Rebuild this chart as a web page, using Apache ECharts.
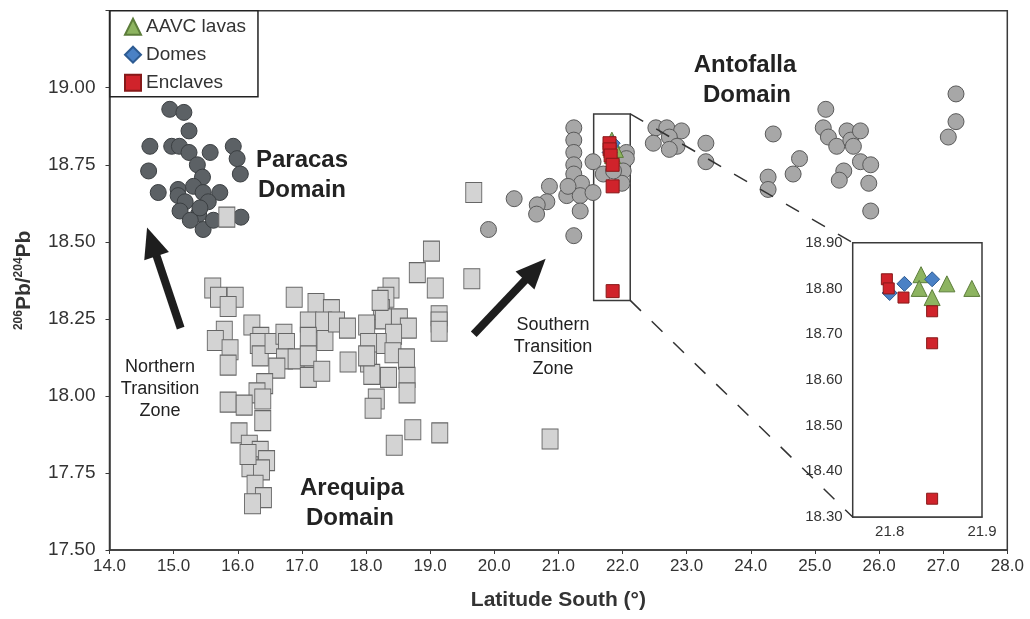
<!DOCTYPE html>
<html>
<head>
<meta charset="utf-8">
<script src="https://cdn.jsdelivr.net/npm/echarts@6/dist/echarts.min.js"></script>
<style>
  html, body { margin: 0; padding: 0; background: #fff; }
  #chart { width: 1030px; height: 619px; }
</style>
</head>
<body>
<div id="chart"></div>
<script>
// Paracas Domain (dark circles): latitude south, 206Pb/204Pb
const paracasLat = [14.94, 15.16, 15.24, 14.63, 14.97, 15.09, 15.24, 15.57, 15.93, 15.99,
  15.37, 14.61, 16.04, 15.45, 14.76, 15.07, 15.31, 15.46, 15.72, 15.07,
  15.18, 15.54, 15.10, 15.39, 15.26, 15.46, 15.62, 16.05, 15.41];
const paracasPb = [18.93, 18.92, 18.86, 18.81, 18.81, 18.81, 18.79, 18.79, 18.81, 18.77,
  18.75, 18.73, 18.72, 18.71, 18.66, 18.67, 18.68, 18.66, 18.66, 18.65,
  18.63, 18.63, 18.60, 18.59, 18.57, 18.54, 18.57, 18.58, 18.61];

// Arequipa Domain (light squares)
const arequipaLat = [15.61, 15.70, 15.96, 15.85, 15.79, 15.65, 15.88, 15.85, 16.22, 16.36,
  16.32, 16.35, 16.55, 16.72, 16.76, 16.73, 16.61, 16.88, 16.91, 17.22,
  17.46, 17.10, 17.34, 17.10, 17.36, 17.10, 17.10, 17.31, 17.54, 16.42,
  16.30, 15.85, 16.10, 16.39, 16.39, 16.02, 16.18, 16.35, 16.45, 16.19,
  16.37, 16.27, 16.40, 16.23, 16.16,
  19.02, 18.80, 19.08, 19.14, 19.14, 19.14, 18.39, 18.31, 18.24, 18.52,
  18.66, 18.01, 18.27, 18.43, 18.19, 18.04, 18.42, 18.04, 18.63, 18.09,
  18.35, 18.64, 18.64, 17.72, 17.71, 18.16, 18.11, 18.73, 19.15, 18.44,
  18.01, 18.22, 19.68, 19.65, 20.87, 15.83];
const arequipaPb = [18.35, 18.32, 18.32, 18.29, 18.21, 18.18, 18.15, 18.10, 18.23, 18.19,
  18.17, 18.13, 18.17, 18.20, 18.17, 18.12, 18.09, 18.32, 18.12, 18.30,
  18.28, 18.24, 18.24, 18.19, 18.18, 18.13, 18.06, 18.08, 18.24, 18.04,
  18.01, 17.98, 17.97, 17.99, 17.92, 17.88, 17.84, 17.82, 17.79, 17.77,
  17.76, 17.71, 17.67, 17.65, 17.81,
  18.47, 18.40, 18.35, 18.26, 18.24, 18.21, 18.35, 18.32, 18.28, 18.25,
  18.22, 18.23, 18.25, 18.20, 18.17, 18.17, 18.14, 18.11, 18.12, 18.07,
  18.06, 18.06, 18.01, 18.11, 18.22, 17.99, 17.96, 17.89, 17.88, 17.84,
  18.13, 18.31, 18.66, 18.38, 17.86, 18.58];

// Antofalla Domain (grey circles)
const antofallaLat = [21.24, 21.24, 21.24, 21.24, 21.24, 21.54, 21.36, 21.13, 21.34, 21.54,
  20.86, 20.82, 20.67, 20.66, 20.31, 21.34, 19.91, 21.24, 21.15,
  22.06, 22.06, 22.01, 21.99, 21.70, 21.86,
  22.52, 22.69, 22.92, 22.48, 22.73, 22.85, 22.73, 23.30, 23.30, 24.35,
  24.27, 24.27, 24.76, 24.66, 25.17, 25.13, 25.21, 25.34, 25.50, 25.56,
  25.71, 25.60, 25.71, 25.87, 25.45, 25.38, 25.84, 25.87, 27.20, 27.20, 27.08];
const antofallaPb = [18.87, 18.83, 18.79, 18.75, 18.72, 18.76, 18.69, 18.65, 18.65, 18.66,
  18.68, 18.63, 18.62, 18.59, 18.64, 18.60, 18.54, 18.52, 18.68,
  18.79, 18.77, 18.73, 18.69, 18.72, 18.73,
  18.87, 18.87, 18.86, 18.82, 18.84, 18.81, 18.80, 18.82, 18.76, 18.85,
  18.71, 18.67, 18.77, 18.72, 18.93, 18.87, 18.84, 18.81, 18.86, 18.83,
  18.86, 18.81, 18.76, 18.75, 18.73, 18.70, 18.69, 18.60, 18.98, 18.89, 18.84];

// AAVC samples
const lavasLat = [21.834, 21.832, 21.846, 21.862, 21.889];
const lavasPb = [18.83, 18.80, 18.78, 18.81, 18.80];
const domesLat = [21.816, 21.846, 21.800];
const domesPb = [18.81, 18.82, 18.79];
const enclavesLat = [21.797, 21.799, 21.815, 21.846, 21.846, 21.846];
const enclavesPb = [18.82, 18.80, 18.78, 18.75, 18.68, 18.34];

// Axis ranges and tick labels
const mainLatRange = [14, 28];
const mainPbRange = [17.5, 19.25];
const insetLatRange = [21.76, 21.9];
const insetPbRange = [18.3, 18.9];
const insetLatTicks = [21.8, 21.9];

// Zoom box around the AAVC samples, and the two domain-transition arrows
const zoomBoxLat = [21.55, 22.12];
const zoomBoxPb = [18.31, 18.915];
const northArrow = [[15.11, 18.22], [14.66, 18.50]];
const southArrow = [[19.68, 18.20], [20.64, 18.41]];

const FONT = "'Liberation Sans', Arial, Helvetica, sans-serif";
const AXIS = '#3a3a3a';
const pair = (xs, ys) => xs.map((x, i) => [x, ys[i]]);

const chart = echarts.init(document.getElementById('chart'), null, { renderer: 'canvas' });

const styles = {
  paracas: { color: '#5c6165', borderColor: '#3b3f42', borderWidth: 1, opacity: 1 },
  arequipa: { color: '#d3d3d3', borderColor: '#666', borderWidth: 1, opacity: 1 },
  antofalla: { color: '#a7a7a7', borderColor: '#5a5a5a', borderWidth: 1, opacity: 1 },
  lavas: { color: '#8db460', borderColor: '#5c7d3a', borderWidth: 1, opacity: 1 },
  domes: { color: '#4a81c5', borderColor: '#2d5b92', borderWidth: 1, opacity: 1 },
  enclaves: { color: '#d0232b', borderColor: '#871919', borderWidth: 1, opacity: 1 }
};

const arrowLine = (pts) => ({
  silent: true,
  symbol: ['none', 'triangle'],
  symbolSize: [26, 30],
  label: { show: false },
  emphasis: { disabled: true },
  lineStyle: { color: '#1e1e1e', width: 8, type: 'solid', opacity: 1 },
  itemStyle: { color: '#1e1e1e' },
  data: [[{ coord: pts[0] }, { coord: pts[1] }]]
});

const aavcSeries = (gi, sizes) => [
  { name: 'AAVC lavas', type: 'scatter', xAxisIndex: gi, yAxisIndex: gi, symbol: 'triangle',
    symbolSize: sizes[0], itemStyle: styles.lavas, data: pair(lavasLat, lavasPb), z: 4 },
  { name: 'Domes', type: 'scatter', xAxisIndex: gi, yAxisIndex: gi, symbol: 'diamond',
    symbolSize: sizes[1], itemStyle: styles.domes, data: pair(domesLat, domesPb), z: 5 },
  { name: 'Enclaves', type: 'scatter', xAxisIndex: gi, yAxisIndex: gi, symbol: 'rect',
    symbolSize: sizes[2], itemStyle: styles.enclaves, data: pair(enclavesLat, enclavesPb), z: 6 }
];

const mainAavc = aavcSeries(0, [16, 15, 13]);
mainAavc[2].markArea = {
  silent: true,
  itemStyle: { color: 'rgba(0,0,0,0)', borderColor: AXIS, borderWidth: 1.5 },
  data: [[{ coord: [zoomBoxLat[0], zoomBoxPb[1]] }, { coord: [zoomBoxLat[1], zoomBoxPb[0]] }]]
};

const option = {
  animation: false,
  backgroundColor: '#fff',
  textStyle: { fontFamily: FONT },
  grid: [
    { left: 109.5, top: 10.7, right: 22.7, bottom: 69, show: true, borderColor: AXIS, borderWidth: 1.5, z: 0 },
    { left: 852.7, top: 242.7, width: 129.3, height: 274.3, show: true, borderColor: AXIS, borderWidth: 1.5,
      backgroundColor: '#fff', z: 8 }
  ],
  legend: {
    data: ['AAVC lavas', 'Domes', 'Enclaves'],
    orient: 'vertical', left: 110, top: 10.7,
    padding: [6, 12, 4, 14], itemGap: 8, itemWidth: 16, itemHeight: 16,
    borderColor: '#222', borderWidth: 1.5, backgroundColor: '#fff',
    textStyle: { fontSize: 19, color: '#333', lineHeight: 20, fontFamily: FONT },
    selectedMode: false, z: 20
  },
  xAxis: [
    { gridIndex: 0, type: 'value', min: mainLatRange[0], max: mainLatRange[1], interval: 1,
      axisLine: { lineStyle: { color: AXIS, width: 1.5 } },
      axisTick: { show: true, length: 4, lineStyle: { color: AXIS } },
      splitLine: { show: false },
      axisLabel: { formatter: v => v.toFixed(1), fontSize: 17, color: '#333', margin: 8 },
      name: 'Latitude South (°)', nameLocation: 'middle', nameGap: 40,
      nameTextStyle: { fontSize: 21, fontWeight: 'bold', color: '#333' } },
    { gridIndex: 1, type: 'value', min: insetLatRange[0], max: insetLatRange[1],
      axisLine: { lineStyle: { color: AXIS, width: 1.5 } },
      axisTick: { show: false },
      splitLine: { show: false },
      axisLabel: { customValues: insetLatTicks, formatter: v => Number(v).toFixed(1),
        fontSize: 15, color: '#333', margin: 7 } }
  ],
  yAxis: [
    { gridIndex: 0, type: 'value', min: mainPbRange[0], max: mainPbRange[1], interval: 0.25,
      axisLine: { show: true, lineStyle: { color: AXIS, width: 1.5 } },
      axisTick: { show: true, length: 4, lineStyle: { color: AXIS } },
      splitLine: { show: false },
      axisLabel: { formatter: v => (v > 19.2 ? '' : v.toFixed(2)), fontSize: 19, color: '#333', margin: 14 },
      name: '{s|206}{b|Pb/}{s|204}{b|Pb}', nameLocation: 'middle', nameGap: 73, nameRotate: 90,
      nameTextStyle: { rich: {
        b: { fontSize: 21, fontWeight: 'bold', color: '#333', lineHeight: 24, fontFamily: FONT },
        s: { fontSize: 12, fontWeight: 'bold', color: '#333', lineHeight: 14, verticalAlign: 'top', fontFamily: FONT }
      } } },
    { gridIndex: 1, type: 'value', min: insetPbRange[0], max: insetPbRange[1], interval: 0.1,
      axisLine: { show: true, lineStyle: { color: AXIS, width: 1.5 } },
      axisTick: { show: false },
      splitLine: { show: false },
      axisLabel: { formatter: v => v.toFixed(2), fontSize: 15, color: '#333', margin: 10 } }
  ],
  series: [
    { name: 'Paracas', type: 'scatter', symbol: 'circle', symbolSize: 16, itemStyle: styles.paracas,
      data: pair(paracasLat, paracasPb), z: 2, markLine: arrowLine(northArrow) },
    { name: 'Arequipa', type: 'scatter', symbol: 'rect', symbolSize: [16, 20], itemStyle: styles.arequipa,
      data: pair(arequipaLat, arequipaPb), z: 2 },
    { name: 'Antofalla', type: 'scatter', symbol: 'circle', symbolSize: 16, itemStyle: styles.antofalla,
      data: pair(antofallaLat, antofallaPb), z: 2, markLine: arrowLine(southArrow) },
    ...mainAavc,
    ...aavcSeries(1, [16, 15, 11]).map(s => Object.assign(s, { z: s.z + 10 }))
  ].map(s => Object.assign(s, { emphasis: { disabled: true } }))
};

chart.setOption(option);

// Annotation texts
const label = (text, x, y, size, bold) => ({
  type: 'text', x, y, z: 30,
  style: { text, fill: '#222', fontSize: size, fontWeight: bold ? 'bold' : 'normal', fontFamily: FONT,
    textAlign: 'center', textVerticalAlign: 'middle' }
});

const graphics = [
  label('Paracas', 302, 160, 24, true), label('Domain', 302, 190, 24, true),
  label('Antofalla', 745, 65, 24, true), label('Domain', 747, 95, 24, true),
  label('Arequipa', 352, 488, 24, true), label('Domain', 350, 518, 24, true),
  label('Northern', 160, 367, 18, false), label('Transition', 160, 389, 18, false), label('Zone', 160, 411, 18, false),
  label('Southern', 553, 325, 18, false), label('Transition', 553, 347, 18, false), label('Zone', 553, 369, 18, false)
];

// Dashed connectors from the zoom box to the inset panel
const boxTop = chart.convertToPixel({ gridIndex: 0 }, [zoomBoxLat[1], zoomBoxPb[1]]);
const boxBottom = chart.convertToPixel({ gridIndex: 0 }, [zoomBoxLat[1], zoomBoxPb[0]]);
const insetTop = chart.convertToPixel({ gridIndex: 1 }, [insetLatRange[0], insetPbRange[1]]);
const insetBottom = chart.convertToPixel({ gridIndex: 1 }, [insetLatRange[0], insetPbRange[0]]);
[[boxTop, insetTop], [boxBottom, insetBottom]].forEach(([p, q]) => {
  graphics.push({
    type: 'line', z: 25, silent: true,
    shape: { x1: p[0], y1: p[1], x2: q[0], y2: q[1] },
    style: { stroke: '#333', lineWidth: 1.5, lineDash: [15, 15] }
  });
});

chart.setOption({ graphic: graphics });
</script>
</body>
</html>
